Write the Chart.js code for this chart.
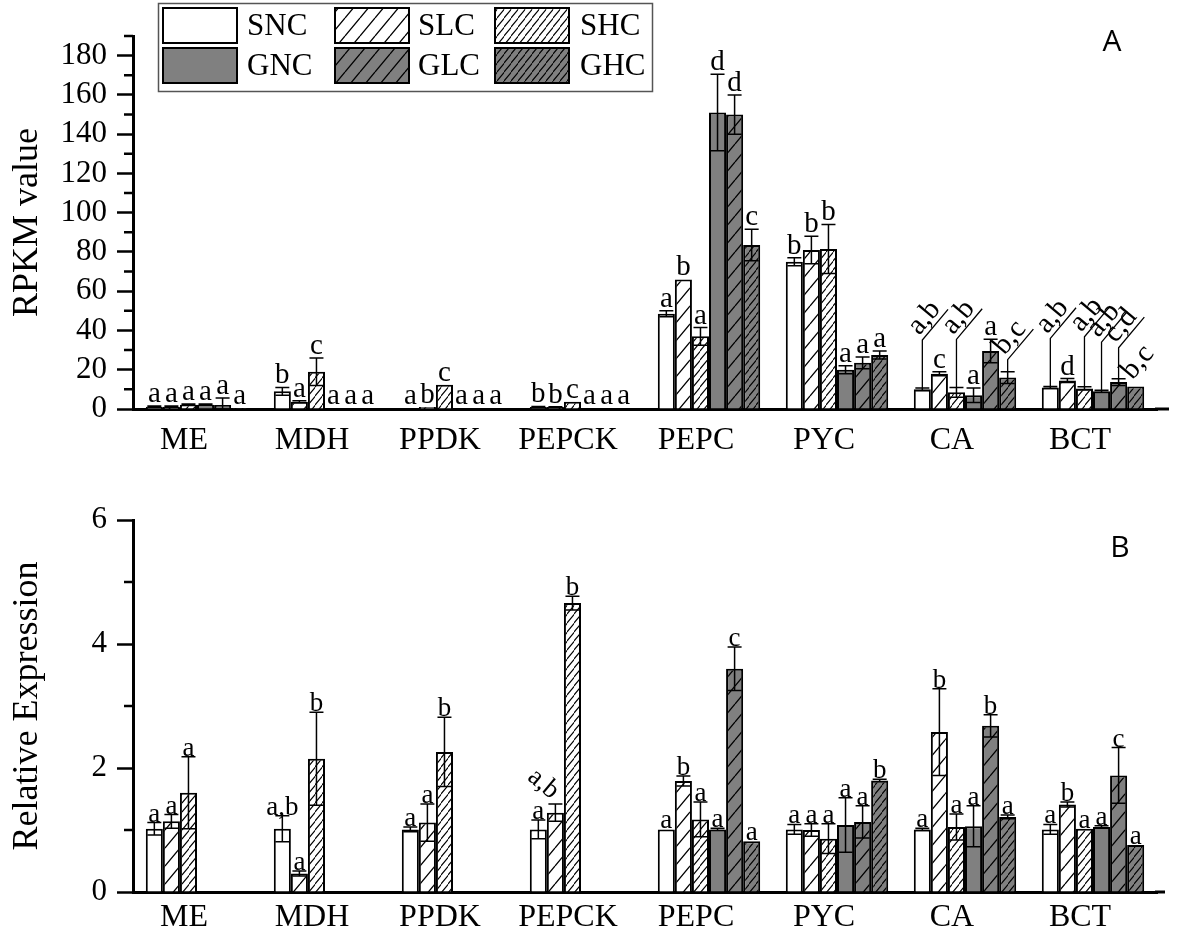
<!DOCTYPE html>
<html><head><meta charset="utf-8">
<script src="https://cdn.jsdelivr.net/npm/chart.js@4.4.1/dist/chart.umd.min.js"></script>
<style>
html,body{margin:0;padding:0;background:#fff;}
#wa{position:absolute;left:0;top:0;width:1181px;height:470px;}
#wb{position:absolute;left:0;top:470px;width:1181px;height:467px;}
</style></head><body>
<div id="wa"><canvas id="ca"></canvas></div>
<div id="wb"><canvas id="cb"></canvas></div>
<script>
// ---------- DATA ----------
const categories = ['ME','MDH','PPDK','PEPCK','PEPC','PYC','CA','BCT'];
const seriesNames = ['SNC','SLC','SHC','GNC','GLC','GHC'];

// Panel A: RPKM value
const rpkmSNC = [1.2, 9, 0.3, 1, 48.5, 75, 10, 11];
const rpkmSLC = [1.2, 3.7, 1, 1, 66, 81, 18, 14.5];
const rpkmSHC = [2.2, 19, 12.3, 3.7, 37, 81.5, 8.5, 10.5];
const rpkmGNC = [2.2, 0.3, 0.3, 0.3, 151, 20, 7, 9];
const rpkmGLC = [2, 0.3, 0.3, 0.3, 150, 23.5, 29.5, 13.7];
const rpkmGHC = [0.5, 0.3, 0.3, 0.3, 83.5, 27.5, 16, 11.5];
const rpkmErrSNC = [0.3, 2, 0, 0.3, 1.5, 2, 0.7, 0.5];
const rpkmErrSLC = [0.3, 0.5, 0, 0.2, 0, 7, 1, 1];
const rpkmErrSHC = [0.3, 7, 0, 0, 4.5, 12.5, 2.5, 0.8];
const rpkmErrGNC = [0.3, 0, 0, 0, 19.5, 2, 3.7, 0.6];
const rpkmErrGLC = [3.6, 0, 0, 0, 10, 3, 6, 1.7];
const rpkmErrGHC = [0, 0, 0, 0, 8, 2, 3, 0];
const rpkmLetSNC = ['a','b','a','b','a','b','a,b','a,b'];
const rpkmLetSLC = ['a','a','b','b','b','b','c','d'];
const rpkmLetSHC = ['a','c','c','c','a','b','a,b','a,b'];
const rpkmLetGNC = ['a','a','a','a','d','a','a','a,b'];
const rpkmLetGLC = ['a','a','a','a','d','a','a','c,d'];
const rpkmLetGHC = ['a','a','a','a','c','a','b,c','b,c'];
const rpkmTicks = [0,20,40,60,80,100,120,140,160,180];
const rpkmMinorTicks = [10,30,50,70,90,110,130,150,170,190];

// Panel B: Relative Expression
const relSNC = [1.02, 1.02, 1.01, 1.01, 1.01, 1.01, 1.01, 1.01];
const relSLC = [1.14, 0.3, 1.12, 1.28, 1.79, 1.0, 2.58, 1.41];
const relSHC = [1.6, 2.15, 2.26, 4.66, 1.17, 0.86, 1.05, 1.02];
const relGNC = [null, null, null, null, 1.01, 1.08, 1.06, 1.05];
const relGLC = [null, null, null, null, 3.6, 1.13, 2.68, 1.88];
const relGHC = [null, null, null, null, 0.82, 1.8, 1.21, 0.76];
const relErrSNC = [0.1, 0.21, 0.04, 0.15, 0, 0.08, 0.02, 0.08];
const relErrSLC = [0.11, 0.04, 0.3, 0.14, 0.08, 0.1, 0.7, 0.04];
const relErrSHC = [0.58, 0.75, 0.56, 0.11, 0.28, 0.24, 0.21, 0];
const relErrGNC = [0, 0, 0, 0, 0.02, 0.44, 0.33, 0.02];
const relErrGLC = [0, 0, 0, 0, 0.35, 0.26, 0.18, 0.45];
const relErrGHC = [0, 0, 0, 0, 0, 0.02, 0.03, 0];
const relLetSNC = ['a','a,b','a','a','a','a','a','a'];
const relLetSLC = ['a','a','a','a,b','b','a','b','b'];
const relLetSHC = ['a','b','b','b','a','a','a','a'];
const relLetGNC = ['','','','','a','a','a','a'];
const relLetGLC = ['','','','','c','a','b','c'];
const relLetGHC = ['','','','','a','b','a','a'];
const relTicks = [0,2,4,6];
const relMinorTicks = [1,3,5];

// ---------- STYLE ----------
const SERIF = '"Liberation Serif", "Times New Roman", serif';
const GRAY = '#808080';
function hatch(bg, w, h, lw) {
  const c = document.createElement('canvas'); c.width = w; c.height = h;
  const g = c.getContext('2d');
  g.fillStyle = bg; g.fillRect(0, 0, w, h);
  g.strokeStyle = '#000'; g.lineWidth = lw;
  g.beginPath();
  for (let k = -1; k <= 1; k++) { g.moveTo(k * w, h); g.lineTo((k + 1) * w, 0); }
  g.stroke();
  return g.createPattern(c, 'repeat');
}
const fills = [
  '#ffffff',
  hatch('#ffffff', 15, 18, 1.3),
  hatch('#ffffff', 7.5, 9, 1.2),
  GRAY,
  hatch(GRAY, 15, 18, 1.3),
  hatch(GRAY, 7.5, 9, 1.2)
];

// label leader / rotation styles (positions only, not data)
const leadersA = {
  '0-6': {rise: 48}, '2-6': {rise: 48}, '5-6': {rise: 12},
  '0-7': {rise: 48}, '2-7': {rise: 50}, '3-7': {rise: 48}, '4-7': {rise: 31}, '5-7': {rise: 2, noLine: true}
};
const rotatedB = {'1-3': {angle: 40, dx: -12, dy: -20}};

function mkDatasets(vals, errs, lets) {
  return vals.map((v, k) => ({
    label: seriesNames[k], data: v, errors: errs[k], letters: lets[k],
    backgroundColor: fills[k], borderColor: '#000', borderWidth: 2,
    categoryPercentage: 0.8, barPercentage: 1.0
  }));
}

const annotPlugin = {
  id: 'annot',
  afterDatasetsDraw(chart, args, cfg) {
    const ctx = chart.ctx, ys = chart.scales.y, ca = chart.chartArea;
    ctx.save();
    ctx.fillStyle = '#000'; ctx.strokeStyle = '#000';
    // minor ticks
    ctx.lineWidth = 2.5;
    ctx.beginPath();
    cfg.minor.forEach(v => { const y = ys.getPixelForValue(v); ctx.moveTo(ca.left - 9, y); ctx.lineTo(ca.left, y); });
    ctx.stroke();
    // extend x-axis line
    ctx.lineWidth = 3;
    ctx.beginPath();
    ctx.moveTo(ca.right - 2, ca.bottom); ctx.lineTo(ca.right + cfg.axisExt, ca.bottom);
    ctx.stroke();
    ctx.font = cfg.fontSize + 'px ' + SERIF;
    const cw = 14;
    chart.data.datasets.forEach((ds, di) => {
      const meta = chart.getDatasetMeta(di);
      meta.data.forEach((bar, i) => {
        const v = ds.data[i]; if (v == null) return;
        const e = ds.errors[i] || 0;
        const x = bar.x;
        const yTop = ys.getPixelForValue(v + e);
        if (e > 0) {
          const yBot = ys.getPixelForValue(Math.max(0, v - e));
          ctx.lineWidth = 1.5;
          ctx.beginPath();
          ctx.moveTo(x, yBot); ctx.lineTo(x, yTop);
          ctx.moveTo(x - cw / 2, yTop); ctx.lineTo(x + cw / 2, yTop);
          ctx.moveTo(x - cw / 2, yBot); ctx.lineTo(x + cw / 2, yBot);
          ctx.stroke();
        }
        const t = ds.letters[i]; if (!t) return;
        const key = di + '-' + i;
        const ld = cfg.leaders && cfg.leaders[key];
        const rt = cfg.rotated && cfg.rotated[key];
        if (ld) {
          const th = 50 * Math.PI / 180;
          const dx = Math.cos(th), dy = -Math.sin(th);
          const nx = -Math.sin(th), ny = -Math.cos(th);
          const kx = x, ky = yTop - ld.rise;
          if (!ld.noLine) {
            ctx.lineWidth = 1.3;
            ctx.beginPath();
            ctx.moveTo(x, yTop); ctx.lineTo(kx, ky);
            ctx.lineTo(kx + dx * 40, ky + dy * 40);
            ctx.stroke();
          }
          ctx.save();
          ctx.translate(kx + dx * 1 + nx * 5, ky + dy * 1 + ny * 5);
          ctx.rotate(-th);
          ctx.textAlign = 'left'; ctx.textBaseline = 'alphabetic';
          ctx.fillText(t, 0, 0);
          ctx.restore();
        } else if (rt) {
          ctx.save();
          ctx.translate(x + rt.dx, yTop + rt.dy);
          ctx.rotate(rt.angle * Math.PI / 180);
          ctx.textAlign = 'center'; ctx.textBaseline = 'middle';
          ctx.fillText(t, 0, 0);
          ctx.restore();
        } else {
          ctx.textAlign = 'center'; ctx.textBaseline = 'alphabetic';
          ctx.fillText(t, x, yTop - cfg.gap);
        }
      });
    });
    // panel letter
    ctx.font = '30px "Open Sans", "Noto Sans", sans-serif';
    ctx.textAlign = 'center'; ctx.textBaseline = 'middle';
    ctx.fillText(cfg.panel, cfg.panelX, cfg.panelY);
    // legend
    if (cfg.legend) {
      ctx.lineWidth = 1.5; ctx.strokeStyle = '#555';
      ctx.strokeRect(158.5, 3.5, 494, 88);
      const cols = [163, 335, 495], txs = [247, 418, 580], rows = [8, 48];
      ctx.font = '31px ' + SERIF;
      ctx.textAlign = 'left'; ctx.textBaseline = 'middle';
      for (let r = 0; r < 2; r++) for (let c = 0; c < 3; c++) {
        const k = r * 3 + c;
        ctx.fillStyle = fills[k];
        ctx.fillRect(cols[c], rows[r], 74, 35);
        ctx.strokeStyle = '#000'; ctx.lineWidth = 2;
        ctx.strokeRect(cols[c], rows[r], 74, 35);
        ctx.fillStyle = '#000';
        ctx.fillText(seriesNames[k], txs[c], rows[r] + 19);
      }
    }
    ctx.restore();
  }
};

function mkChart(id, datasets, o) {
  return new Chart(document.getElementById(id), {
    type: 'bar',
    data: {labels: categories, datasets},
    plugins: [annotPlugin],
    options: {
      responsive: true, maintainAspectRatio: false, animation: false, devicePixelRatio: 1,
      layout: {padding: {top: o.padTop, right: 24, bottom: 0, left: 0}},
      plugins: {legend: {display: false}, tooltip: {enabled: false}, annot: o.annot},
      scales: {
        x: {
          type: 'category', offset: true,
          grid: {display: false, drawTicks: false},
          border: {display: true, color: '#000', width: 3},
          ticks: {font: {family: SERIF, size: 32}, color: '#000', padding: o.xPad, labelOffset: -13, maxRotation: 0, autoSkip: false},
          afterFit: s => { s.height = o.xHeight; }
        },
        y: {
          min: 0, max: o.max,
          afterBuildTicks: s => { s.ticks = o.ticks.map(v => ({value: v})); },
          afterFit: s => { s.width = 133; },
          ticks: {font: {family: SERIF, size: 31}, color: '#000', padding: 10},
          grid: {drawOnChartArea: false, drawTicks: true, tickLength: 16, tickWidth: 2.5, tickColor: '#000'},
          border: {display: true, color: '#000', width: 3},
          title: {display: true, text: o.title, color: '#000', font: {family: SERIF, size: 36}, padding: {top: 6, bottom: 0}}
        }
      }
    }
  });
}

mkChart('ca',
  mkDatasets([rpkmSNC, rpkmSLC, rpkmSHC, rpkmGNC, rpkmGLC, rpkmGHC],
             [rpkmErrSNC, rpkmErrSLC, rpkmErrSHC, rpkmErrGNC, rpkmErrGLC, rpkmErrGHC],
             [rpkmLetSNC, rpkmLetSLC, rpkmLetSHC, rpkmLetGNC, rpkmLetGLC, rpkmLetGHC]),
  {padTop: 36, max: 190, ticks: rpkmTicks, title: 'RPKM value', xHeight: 61, xPad: 12,
   annot: {minor: rpkmMinorTicks, fontSize: 29, gap: 4, leaders: leadersA, panel: 'A', panelX: 1112, panelY: 42, legend: true, axisExt: 12}});

mkChart('cb',
  mkDatasets([relSNC, relSLC, relSHC, relGNC, relGLC, relGHC],
             [relErrSNC, relErrSLC, relErrSHC, relErrGNC, relErrGLC, relErrGHC],
             [relLetSNC, relLetSLC, relLetSHC, relLetGNC, relLetGLC, relLetGHC]),
  {padTop: 50, max: 6, ticks: relTicks, title: 'Relative Expression', xHeight: 45, xPad: 6,
   annot: {minor: relMinorTicks, fontSize: 27, gap: 1, rotated: rotatedB, panel: 'B', panelX: 1120, panelY: 78, legend: false, axisExt: 8}});
</script>
</body></html>
